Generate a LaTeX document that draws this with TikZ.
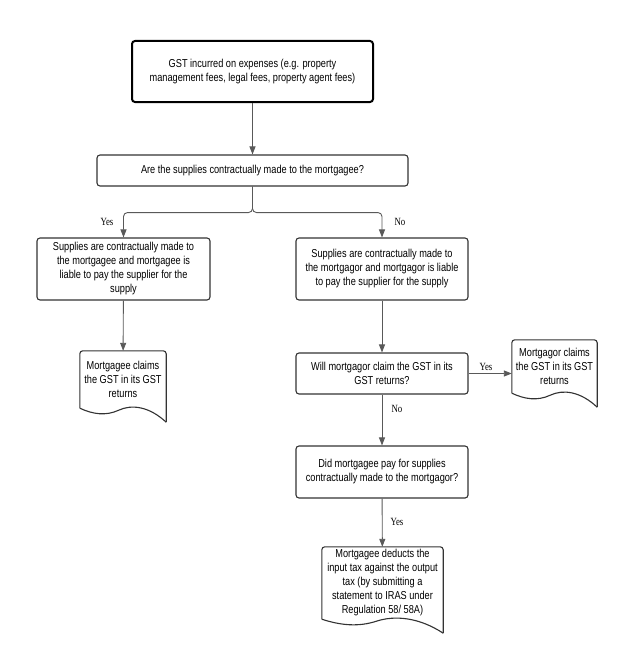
\documentclass[tikz,border=0pt]{standalone}
\usepackage{fontspec}
\setmainfont{Liberation Sans}[FakeStretch=0.8]
\newfontfamily\labelfont{Liberation Serif}[FakeStretch=0.8]
\usetikzlibrary{arrows.meta,calc}
\definecolor{edgegray}{HTML}{333333}
\definecolor{flowgray}{HTML}{595959}
\tikzset{
  box/.style={draw=edgegray,line width=1.1pt,rounded corners=3pt,align=center,inner sep=1pt,font=\fontsize{11.5}{14}\selectfont},
  docbox/.style={align=center,inner sep=0pt,font=\fontsize{11.5}{14}\selectfont},
  docline/.style={draw=edgegray,line width=1.1pt},
  flow/.style={draw=flowgray,line width=0.9pt,-{Triangle[length=8pt,width=6pt]}},
  lbl/.style={font=\labelfont\fontsize{11}{13}\selectfont,inner sep=0pt},
}
% outline of a document shape round a node
\newcommand{\docoutline}[1]{%
  \draw[docline,rounded corners=3pt] (#1.south west) -- (#1.north west) -- (#1.north east) -- ([yshift=-14pt]#1.south east);
  \draw[docline] (#1.south west) .. controls ($(#1.south west)!0.15!(#1.south east)+(0,-6)$) and ($(#1.south west)!0.3!(#1.south east)+(0,-8)$) .. ($(#1.south west)!0.45!(#1.south east)+(0,-2)$) .. controls ($(#1.south west)!0.6!(#1.south east)+(0,4)$) and ($(#1.south west)!0.8!(#1.south east)+(0,2)$) .. ([yshift=-14pt]#1.south east);
}
\begin{document}
\begin{tikzpicture}[x=1pt,y=1pt]
  \useasboundingbox[fill=white] (0,0) rectangle (635,-669);
  % Boxes
  \node[box,draw=black,line width=2pt,minimum width=241pt,minimum height=61pt] (expense) at (252.5,-71.5) {GST incurred on expenses (e.g. property\\management fees, legal fees, property agent fees)};
  \node[box,minimum width=311pt,minimum height=31pt] (madeto) at (252.5,-170.5) {Are the supplies contractually made to the mortgagee?};
  \node[box,minimum width=173pt,minimum height=62pt] (mgee) at (123.5,-269) {Supplies are contractually made to\\the mortgagee and mortgagee is\\liable to pay the supplier for the\\supply};
  \node[box,minimum width=172pt,minimum height=62pt] (mgor) at (382,-269) {Supplies are contractually made to\\the mortgagor and mortgagor is liable\\to pay the supplier for the supply};
  \node[box,minimum width=172pt,minimum height=41pt] (willclaim) at (382,-373.5) {Will mortgagor claim the GST in its\\GST returns?};
  \node[box,minimum width=172pt,minimum height=52pt] (didpay) at (382,-472) {Did mortgagee pay for supplies\\contractually made to the mortgagor?};
  % Documents
  \node[docbox,minimum width=86pt,minimum height=57pt] (geeclaims) at (123,-379.5) {Mortgagee claims\\the GST in its GST\\returns};
  \node[docbox,minimum width=85pt,minimum height=53pt] (gorclaims) at (554.5,-366.5) {Mortgagor claims\\the GST in its GST\\returns};
  \node[docbox,minimum width=121pt,minimum height=72pt] (deducts) at (382.5,-583) {Mortgagee deducts the\\input tax against the output\\tax (by submitting a\\statement to IRAS under\\Regulation 58/ 58A)};
  \docoutline{geeclaims}
  \docoutline{gorclaims}
  \docoutline{deducts}
  % Connectors
  \draw[flow] (expense) -- (madeto);
  \draw[flow,rounded corners=4pt] (madeto.south) -- ++(0,-26) -| (mgee.north);
  \draw[flow,rounded corners=4pt] (madeto.south) -- ++(0,-26) -| (mgor.north);
  \draw[flow] (mgee) -- (geeclaims);
  \draw[flow] (mgor) -- (willclaim);
  \draw[flow] (willclaim.east) -- (willclaim.east -| gorclaims.west);
  \draw[flow] (willclaim) -- (didpay);
  \draw[flow] (didpay) -- (deducts);
  % Labels
  \node[lbl] (yesgee) at (107,-222) {Yes};
  \node[lbl] (nogor) at (400,-222) {No};
  \node[lbl] (yesclaim) at (486,-367) {Yes};
  \node[lbl] (noclaim) at (397,-409) {No};
  \node[lbl] (yespay) at (397,-522) {Yes};
\end{tikzpicture}
\end{document}
